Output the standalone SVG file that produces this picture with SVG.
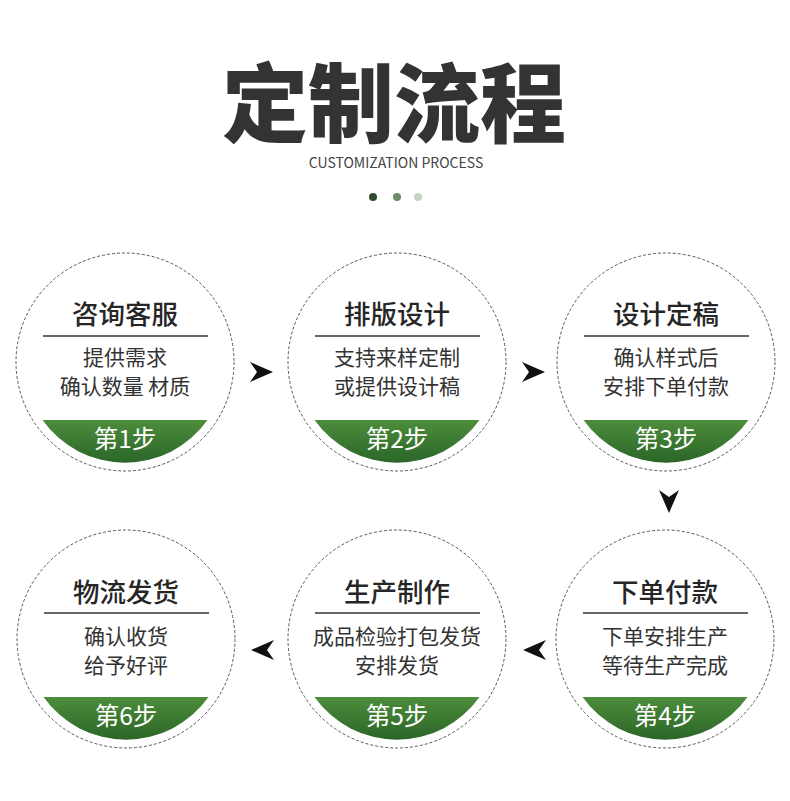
<svg xmlns="http://www.w3.org/2000/svg" width="790" height="801" viewBox="0 0 790 801">
<defs>
<linearGradient id="g" x1="0" y1="0" x2="0" y2="1">
<stop offset="0" stop-color="#4d8c3c"/>
<stop offset="1" stop-color="#2b6627"/>
</linearGradient>
</defs>
<style>
.ring{fill:#fff;stroke:#555;stroke-width:1;stroke-dasharray:3 2}
.t{font-family:"Noto Sans CJK SC","Noto Sans",sans-serif;text-anchor:middle}
.h{font-size:26.5px;fill:#262626;font-weight:500}
.b{font-size:21px;fill:#333}
.s{font-size:24.5px;fill:#fff}
.rule{stroke:#333;stroke-width:1.3}
.arr{fill:#111}
</style>
<rect width="790" height="801" fill="#fff"/>
<text class="t" x="394" y="136" font-size="86" font-weight="900" fill="#333">定制流程</text>
<text class="t" x="396" y="168" font-size="14" fill="#444" font-family="'Open Sans',sans-serif">CUSTOMIZATION PROCESS</text>
<circle cx="373" cy="197" r="4" fill="#2e4d2c"/>
<circle cx="397" cy="197" r="4" fill="#6f8c6a"/>
<circle cx="418" cy="197" r="4" fill="#c7d5c4"/>

<g id="step1">
<circle class="ring" cx="125" cy="362" r="109"/>
<path d="M42.5,420 A101,101 0 0 0 207.5,420 Z" fill="url(#g)"/>
<text class="t h" x="125" y="324">咨询客服</text>
<line class="rule" x1="43" y1="336" x2="208" y2="336"/>
<text class="t b" x="125" y="365">提供需求</text>
<text class="t b" x="125" y="394">确认数量 材质</text>
<text class="t s" x="125" y="448">第1步</text>
</g>
<g id="step2">
<circle class="ring" cx="397" cy="362" r="109"/>
<path d="M314.5,420 A101,101 0 0 0 479.5,420 Z" fill="url(#g)"/>
<text class="t h" x="397" y="324">排版设计</text>
<line class="rule" x1="315" y1="336" x2="480" y2="336"/>
<text class="t b" x="397" y="365">支持来样定制</text>
<text class="t b" x="397" y="394">或提供设计稿</text>
<text class="t s" x="397" y="448">第2步</text>
</g>
<g id="step3">
<circle class="ring" cx="666" cy="362" r="109"/>
<path d="M583.5,420 A101,101 0 0 0 748.5,420 Z" fill="url(#g)"/>
<text class="t h" x="666" y="324">设计定稿</text>
<line class="rule" x1="584" y1="336" x2="749" y2="336"/>
<text class="t b" x="666" y="365">确认样式后</text>
<text class="t b" x="666" y="394">安排下单付款</text>
<text class="t s" x="666" y="448">第3步</text>
</g>
<g id="step4">
<circle class="ring" cx="665" cy="639" r="109"/>
<path d="M582.5,697 A101,101 0 0 0 747.5,697 Z" fill="url(#g)"/>
<text class="t h" x="665" y="602">下单付款</text>
<line class="rule" x1="583" y1="613" x2="748" y2="613"/>
<text class="t b" x="665" y="644">下单安排生产</text>
<text class="t b" x="665" y="673">等待生产完成</text>
<text class="t s" x="665" y="725">第4步</text>
</g>
<g id="step5">
<circle class="ring" cx="397" cy="639" r="109"/>
<path d="M314.5,697 A101,101 0 0 0 479.5,697 Z" fill="url(#g)"/>
<text class="t h" x="397" y="602">生产制作</text>
<line class="rule" x1="315" y1="613" x2="480" y2="613"/>
<text class="t b" x="397" y="644">成品检验打包发货</text>
<text class="t b" x="397" y="673">安排发货</text>
<text class="t s" x="397" y="725">第5步</text>
</g>
<g id="step6">
<circle class="ring" cx="126" cy="639" r="109"/>
<path d="M43.5,697 A101,101 0 0 0 208.5,697 Z" fill="url(#g)"/>
<text class="t h" x="126" y="602">物流发货</text>
<line class="rule" x1="44" y1="613" x2="209" y2="613"/>
<text class="t b" x="126" y="644">确认收货</text>
<text class="t b" x="126" y="673">给予好评</text>
<text class="t s" x="126" y="725">第6步</text>
</g>

<g id="connectors" class="arr">
<path d="M250,362 L273,372 L250,382 L257,372 Z"/>
<path d="M522,362 L545,372 L522,382 L529,372 Z"/>
<path d="M659,490 L669,513 L679,490 L669,497 Z"/>
<path d="M546,640 L523,650 L546,660 L539,650 Z"/>
<path d="M274,640 L251,650 L274,660 L267,650 Z"/>
</g>
</svg>
